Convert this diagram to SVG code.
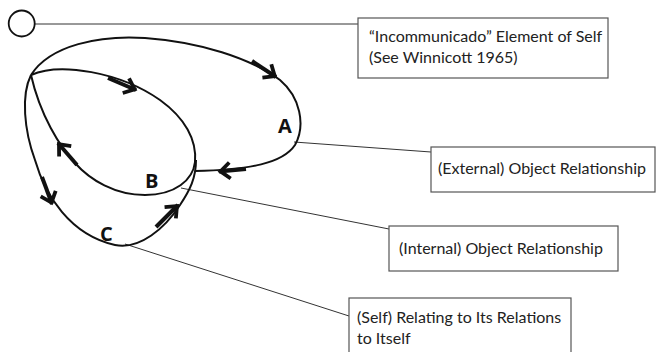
<svg xmlns="http://www.w3.org/2000/svg" width="656" height="352" viewBox="0 0 656 352">
<style>
.loop{fill:none;stroke:#111;stroke-width:2}
.arr{fill:none;stroke:#111;stroke-width:4}
.conn{fill:none;stroke:#333;stroke-width:1}
.box{fill:#fff;stroke:#555;stroke-width:1.2}
.lbl{font-family:Lato,"Open Sans",sans-serif;font-size:16px;fill:#222}
.let{font-family:"Open Sans","Noto Sans",sans-serif;font-size:20px;font-weight:bold;fill:#111}
</style>
<defs>
<marker id="ah" viewBox="-20 -15 24 30" markerWidth="24" markerHeight="30" refX="0" refY="0" orient="auto" markerUnits="userSpaceOnUse" overflow="visible">
<path d="M-11,-8 L-1.5,0 L-11,8" fill="none" stroke="#111" stroke-width="3.8" stroke-linejoin="miter" stroke-miterlimit="10"/>
</marker>
</defs>
<g id="connectors">
<line class="conn" x1="35" y1="24" x2="358" y2="24"/>
<line class="conn" x1="294" y1="142" x2="431" y2="152"/>
<line class="conn" x1="181" y1="188" x2="389" y2="229"/>
<line class="conn" x1="125" y1="244" x2="349" y2="316"/>
</g>
<g id="self-circle">
<circle cx="21.7" cy="23.5" r="13" fill="#fff" stroke="#111" stroke-width="1.8"/>
</g>
<g id="loop-A">
<path class="loop" d="M31,75 C50,45 100,35 145,38 C200,42 250,58 280,80 C300,97 306,125 295,145 C283,163 250,170 195,171"/>
<line class="arr" x1="252" y1="61" x2="276" y2="77" marker-end="url(#ah)"/>
<line class="arr" x1="246" y1="169" x2="219" y2="171.5" marker-end="url(#ah)"/>
<text class="let" x="278" y="133">A</text>
</g>
<g id="loop-B">
<path class="loop" d="M31,75 C60,62 120,72 160,100 C185,118 197,140 195,162 C193,180 175,195 145,195 C115,195 90,180 75,163 C60,147 40,115 31,75"/>
<line class="arr" x1="108" y1="78" x2="136" y2="90" marker-end="url(#ah)"/>
<line class="arr" x1="77" y1="165" x2="58" y2="143" marker-end="url(#ah)"/>
<text class="let" x="145" y="188">B</text>
</g>
<g id="loop-C">
<path class="loop" d="M31,75 C21,95 24,130 35,160 C45,195 70,235 115,245 C140,250 165,228 180,205 C190,190 196,178 196,160"/>
<line class="arr" x1="42" y1="177" x2="52" y2="204" marker-end="url(#ah)"/>
<line class="arr" x1="156" y1="227" x2="178" y2="205" marker-end="url(#ah)"/>
<text class="let" x="100" y="241">C</text>
</g>
<g id="box-incommunicado">
<rect class="box" x="358" y="18" width="250" height="60"/>
<text class="lbl" x="369" y="42">“Incommunicado” Element of Self</text>
<text class="lbl" x="369" y="63">(See Winnicott 1965)</text>
</g>
<g id="box-external">
<rect class="box" x="431" y="147" width="224" height="45"/>
<text class="lbl" x="438" y="174">(External) Object Relationship</text>
</g>
<g id="box-internal">
<rect class="box" x="389" y="226" width="229" height="45"/>
<text class="lbl" x="399" y="254">(Internal) Object Relationship</text>
</g>
<g id="box-self">
<rect class="box" x="349" y="298" width="222" height="60"/>
<text class="lbl" x="357" y="323">(Self) Relating to Its Relations</text>
<text class="lbl" x="357" y="344">to Itself</text>
</g>
</svg>
